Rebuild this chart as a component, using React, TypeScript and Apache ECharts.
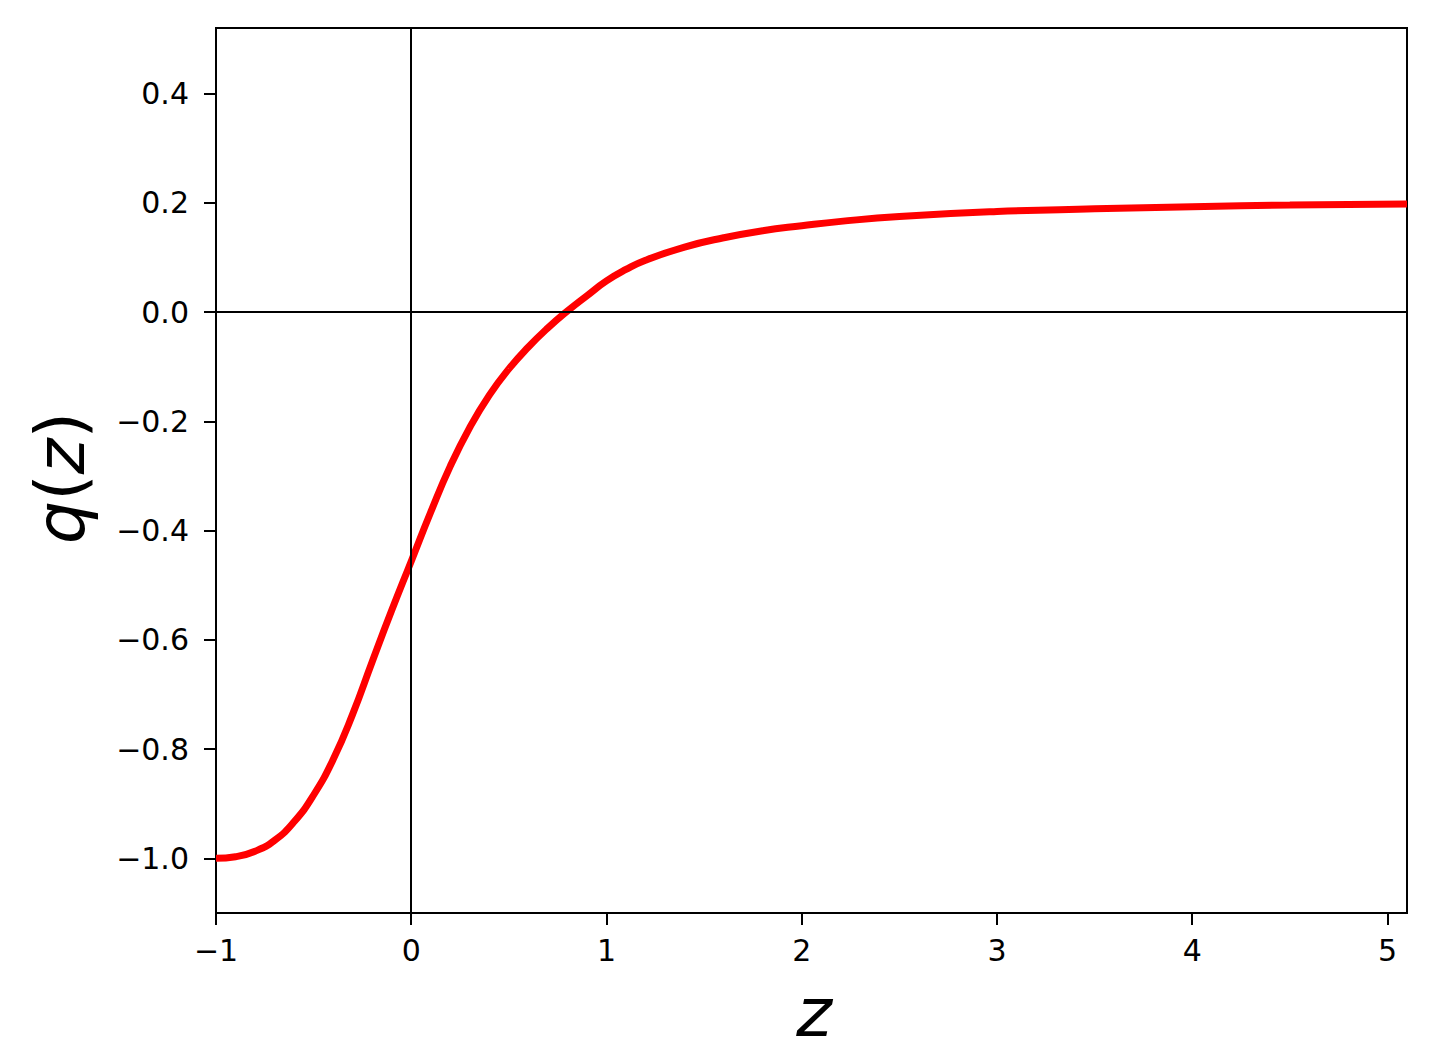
import React, { useEffect, useRef } from "react";
import * as echarts from "echarts";

// Curve values
const zValues = [
  -1.0, -0.9, -0.8, -0.7, -0.6, -0.5, -0.4, -0.3, -0.2, -0.1,
  0.0, 0.1, 0.2, 0.3, 0.4, 0.5, 0.6, 0.7, 0.8, 0.9,
  1.0, 1.1, 1.2, 1.4, 1.6, 1.8, 2.0, 2.2, 2.5, 3.0,
  3.5, 4.0, 4.5, 5.1,
];
const qValues = [
  -1.0, -0.997, -0.987, -0.967, -0.933, -0.884, -0.819, -0.736, -0.64, -0.546,
  -0.456, -0.366, -0.282, -0.211, -0.152, -0.104, -0.064, -0.029, 0.002, 0.03,
  0.057, 0.078, 0.095, 0.119, 0.136, 0.149, 0.158, 0.166, 0.175, 0.184,
  0.189, 0.193, 0.196, 0.198,
];
const xTicks = [-1, 0, 1, 2, 3, 4, 5];
const yTicks = [-1.0, -0.8, -0.6, -0.4, -0.2, 0.0, 0.2, 0.4];

const FONT = "DejaVu Sans";
const fmtX = (v: number) => (v < 0 ? "\u2212" : "") + Math.abs(v).toString();
const fmtY = (v: number) =>
  (v < -1e-9 ? "\u2212" : "") + Math.abs(v).toFixed(1);

export default function App() {
  const ref = useRef<HTMLDivElement>(null);
  useEffect(() => {
    if (!ref.current) return;
    const chart = echarts.init(ref.current, undefined, { renderer: "svg" });
    const data = zValues.map((z, i) => [z, qValues[i]]);
    chart.setOption({
      animation: false,
      backgroundColor: "#ffffff",
      grid: {
        left: 216,
        top: 28,
        right: 30,
        bottom: 146,
        show: true,
        borderColor: "#000",
        borderWidth: 2,
        backgroundColor: "transparent",
      },
      xAxis: {
        type: "value",
        min: -1,
        max: 5.1,
        axisLine: { show: true, onZero: false, lineStyle: { color: "#000", width: 2 } },
        axisTick: {
          show: true,
          length: 12,
          inside: false,
          customValues: xTicks,
          lineStyle: { color: "#000", width: 2 },
        },
        axisLabel: {
          customValues: xTicks,
          formatter: fmtX,
          fontFamily: FONT,
          fontSize: 30,
          color: "#000",
          margin: 22,
        },
        splitLine: { show: false },
      },
      yAxis: {
        type: "value",
        min: -1.1,
        max: 0.52,
        axisLine: { show: true, onZero: false, lineStyle: { color: "#000", width: 2 } },
        axisTick: {
          show: true,
          length: 12,
          inside: false,
          customValues: yTicks,
          lineStyle: { color: "#000", width: 2 },
        },
        axisLabel: {
          customValues: yTicks,
          formatter: fmtY,
          fontFamily: FONT,
          fontSize: 30,
          color: "#000",
          margin: 27,
        },
        splitLine: { show: false },
      },
      series: [
        {
          type: "line",
          data,
          smooth: 0.5,
          showSymbol: false,
          symbol: "none",
          lineStyle: { color: "#ff0000", width: 7 },
          z: 2,
        },
        {
          type: "line",
          data: [],
          showSymbol: false,
          z: 3,
          markLine: {
            silent: true,
            symbol: ["none", "none"],
            label: { show: false },
            lineStyle: { color: "#000", width: 2, type: "solid" },
            data: [{ xAxis: 0 }, { yAxis: 0 }],
          },
        },
      ],
      graphic: [
        {
          type: "text",
          x: 60,
          y: 478,
          rotation: Math.PI / 2,
          style: {
            text: "{i|q}({i|z})",
            fontFamily: FONT,
            fontSize: 68,
            fill: "#000",
            textAlign: "center",
            textVerticalAlign: "middle",
            rich: {
              i: { fontFamily: FONT, fontSize: 68, fontStyle: "italic", fill: "#000" },
            },
          },
        },
        {
          type: "text",
          x: 814,
          y: 1012,
          style: {
            text: "z",
            fontFamily: FONT,
            fontSize: 68,
            fontStyle: "italic",
            fill: "#000",
            textAlign: "center",
            textVerticalAlign: "middle",
          },
        },
      ],
    });
    return () => chart.dispose();
  }, []);
  return (
    <div
      ref={ref}
      style={{ position: "absolute", left: 0, top: 0, width: 1437, height: 1059 }}
    />
  );
}
